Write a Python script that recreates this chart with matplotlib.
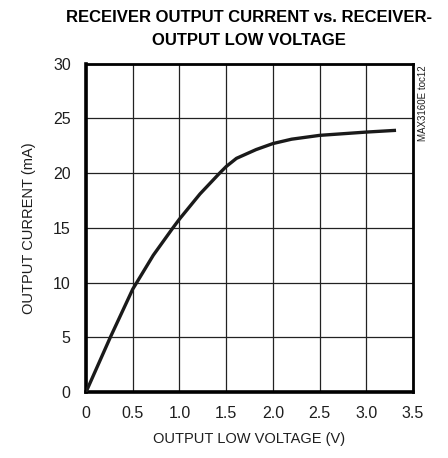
import matplotlib
matplotlib.use("Agg")
import matplotlib.pyplot as plt

# data
voltage = [0.0, 0.26, 0.5, 0.72, 0.93, 1.0, 1.22, 1.43, 1.5, 1.61, 1.82, 2.0, 2.2, 2.5, 3.0, 3.3]
current = [0.0, 5.0, 9.4, 12.5, 15.0, 15.8, 18.1, 20.0, 20.6, 21.35, 22.15, 22.7, 23.1, 23.45, 23.75, 23.9]

xticks = [0, 0.5, 1.0, 1.5, 2.0, 2.5, 3.0, 3.5]
xticklabels = ["0", "0.5", "1.0", "1.5", "2.0", "2.5", "3.0", "3.5"]
yticks = [0, 5, 10, 15, 20, 25, 30]

plt.rcParams["font.family"] = ["Liberation Sans", "DejaVu Sans"]
INK = "#1e1e1e"

fig = plt.figure(figsize=(4.48, 4.58), dpi=100)
ax = fig.add_axes([0.192, 0.144, 0.73, 0.717])

ax.plot(voltage, current, color="#1a1a1a", linewidth=2.4, zorder=3)

ax.set_xlim(0, 3.5)
ax.set_ylim(0, 30)
ax.set_xticks(xticks)
ax.set_xticklabels(xticklabels)
ax.set_yticks(yticks)
ax.grid(True, color="#222222", linewidth=0.9)
ax.tick_params(axis="x", length=0, labelsize=11.5, pad=10, colors=INK)
ax.tick_params(axis="y", length=0, labelsize=11.5, pad=11, colors=INK)
for side in ["left", "bottom"]:
    ax.spines[side].set_linewidth(2.6)
for side in ["top", "right"]:
    ax.spines[side].set_linewidth(2.0)

ax.set_xlabel("OUTPUT LOW VOLTAGE (V)", fontsize=10.5, labelpad=8, color=INK)
ax.set_ylabel("OUTPUT CURRENT (mA)", fontsize=10.5, labelpad=12, color=INK)

fig.text(0.556, 0.952, "RECEIVER OUTPUT CURRENT vs. RECEIVER-",
         ha="center", va="baseline", fontsize=12, fontweight="bold")
fig.text(0.556, 0.902, "OUTPUT LOW VOLTAGE",
         ha="center", va="baseline", fontsize=12, fontweight="bold")
fig.text(0.944, 0.858, "MAX3160E toc12", rotation=90, ha="center", va="top",
         fontsize=7, color=INK)

fig.savefig("out.png", dpi=100)
